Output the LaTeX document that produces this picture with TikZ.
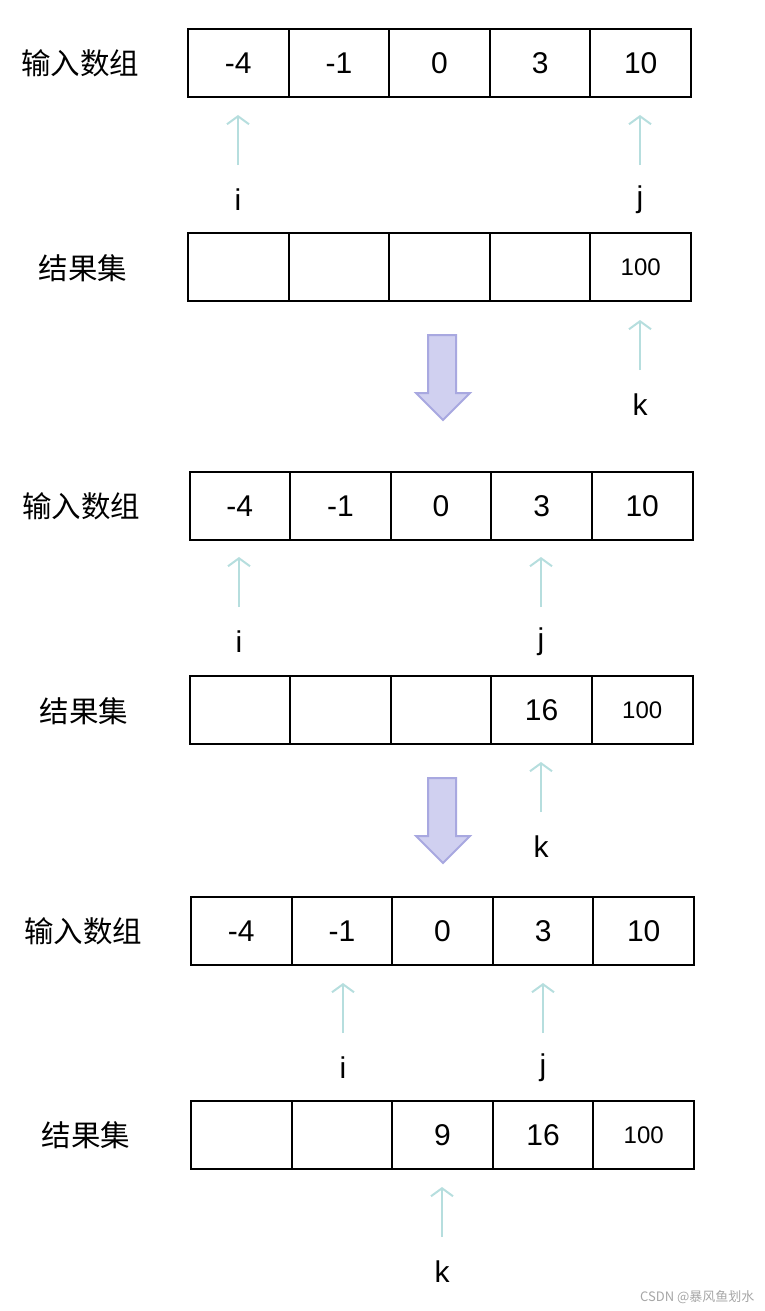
\documentclass[tikz,border=0pt]{standalone}
\usepackage{fontspec}
\setmainfont{Liberation Sans}
\newfontfamily\cjk{Noto Sans CJK SC}
\usetikzlibrary{arrows.meta}
\definecolor{arr}{HTML}{B6DEDE}
\definecolor{bigf}{HTML}{D0D0F0}
\definecolor{bigd}{HTML}{A8A8E0}
\tikzset{cell/.style={draw,line width=2pt,minimum width=100.6pt,minimum height=68pt,inner sep=0pt,font=\fontsize{30}{30}\selectfont},
small/.style={font=\fontsize{24}{24}\selectfont},
ptr/.style={draw=arr,line width=2pt,-{Straight Barb[length=8pt,width=22pt]}},
lab/.style={font=\fontsize{30}{30}\selectfont},
side/.style={font=\cjk\fontsize{29.5}{29.5}\selectfont},
big/.style={fill=bigf,draw=bigd,line width=2pt}}
\begin{document}
\begin{tikzpicture}[x=1pt,y=-1pt]
\useasboundingbox (0,0) rectangle (764,1311);
\foreach \bx/\ay/\ry/\b in {188/29/233/1,189.5/472/676/2,191/897/1101/3}{
  \foreach \v [count=\c] in {-4,-1,0,3,10}{
    \node[cell] (a\b\c) at ({\bx+50.3+100.6*(\c-1)},{\ay+34}) {\v};
    \node[cell] (r\b\c) at ({\bx+50.3+100.6*(\c-1)},{\ry+34}) {};
  }
}
\node[side] (s1) at (80,63) {输入数组};
\node[side] (t1) at (83,268) {结果集};
\node[side] (s2) at (81,506) {输入数组};
\node[side] (t2) at (84,711) {结果集};
\node[side] (s3) at (83,931) {输入数组};
\node[side] (t3) at (86,1135) {结果集};
\node[small] at (r15) {100};
\node[small] at (r25) {100};
\node[small] at (r35) {100};
\node[lab] at (r24) {16};
\node[lab] at (r34) {16};
\node[lab] at (r33) {9};
\foreach \n/\x/\y/\t in {i1/238/165/i,j1/640/165/j,k1/640/370/k,i2/239/607/i,j2/541/607/j,k2/541/812/k,i3/343/1033/i,j3/543/1033/j,k3/442/1237/k}{
  \coordinate (\n s) at (\x,\y);
  \coordinate (\n e) at (\x,\y-50);
  \draw[ptr] (\n s) -- (\n e);
  \node[lab] (\n l) at (\x,\y+35) {\t};
}
\foreach \y in {335,778}{
 \draw[big] (428,\y) -- (456,\y) -- (456,\y+58) -- (470,\y+58) -- (443,\y+85) -- (416,\y+58) -- (428,\y+58) -- cycle;
}
\node[font=\cjk\fontsize{13}{13}\selectfont,text=gray!70,anchor=east] (wm) at (758,1297) {CSDN @暴风鱼划水};
\end{tikzpicture}
\end{document}
